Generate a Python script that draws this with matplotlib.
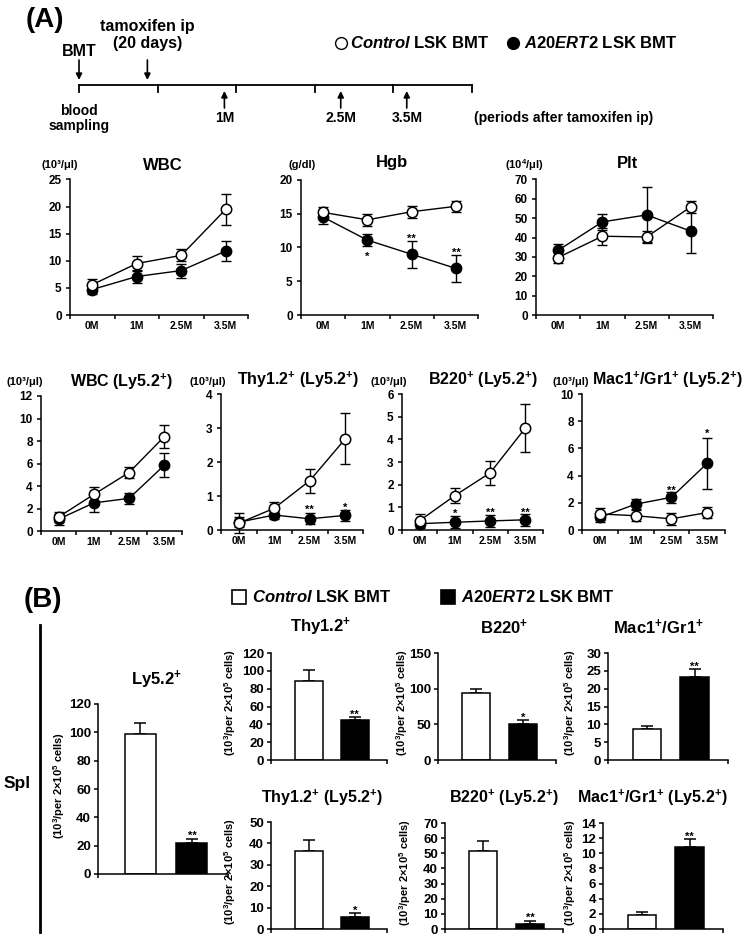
import matplotlib
matplotlib.use('Agg')
import matplotlib.pyplot as plt
from matplotlib.ticker import MultipleLocator

plt.rcParams['font.family'] = ['Liberation Sans', 'DejaVu Sans']
plt.rcParams['font.weight'] = 'bold'
plt.rcParams['mathtext.fontset'] = 'custom'
plt.rcParams['mathtext.rm'] = 'Liberation Sans:bold'
plt.rcParams['mathtext.it'] = 'Liberation Sans:italic:bold'
plt.rcParams['mathtext.bf'] = 'Liberation Sans:bold'
plt.rcParams['axes.linewidth'] = 1.1

# ---- data (A) : peripheral blood, mean +/- err ----
months = ['0M', '1M', '2.5M', '3.5M']

wbc_ctrl = [5.6, 9.5, 11.0, 19.5]
wbc_ctrl_err = [1.1, 1.4, 1.1, 2.9]
wbc_a20 = [4.7, 7.1, 8.2, 11.8]
wbc_a20_err = [0.9, 1.2, 1.3, 1.8]

hgb_ctrl = [15.2, 14.1, 15.3, 16.1]
hgb_ctrl_err = [0.85, 0.9, 0.9, 0.85]
hgb_a20 = [14.5, 11.1, 9.0, 6.9]
hgb_a20_err = [1.0, 0.9, 2.0, 2.0]

plt_ctrl = [29.7, 40.7, 40.3, 55.9]
plt_ctrl_err = [3.0, 4.5, 3.0, 3.0]
plt_a20 = [33.4, 48.1, 51.7, 43.3]
plt_a20_err = [3.1, 4.0, 14.2, 11.2]

wly_ctrl = [1.25, 3.25, 5.2, 8.4]
wly_ctrl_err = [0.45, 0.7, 0.5, 1.05]
wly_a20 = [1.05, 2.5, 2.9, 5.85]
wly_a20_err = [0.5, 0.85, 0.5, 1.05]

thy_ctrl = [0.2, 0.64, 1.45, 2.68]
thy_ctrl_err = [0.3, 0.18, 0.35, 0.75]
thy_a20 = [0.23, 0.44, 0.33, 0.43]
thy_a20_err = [0.15, 0.13, 0.16, 0.16]

b220_ctrl = [0.41, 1.52, 2.52, 4.5]
b220_ctrl_err = [0.3, 0.35, 0.52, 1.05]
b220_a20 = [0.28, 0.34, 0.4, 0.45]
b220_a20_err = [0.1, 0.27, 0.26, 0.27]

mac_ctrl = [1.18, 1.05, 0.82, 1.28]
mac_ctrl_err = [0.45, 0.4, 0.43, 0.42]
mac_a20 = [0.93, 1.9, 2.4, 4.9]
mac_a20_err = [0.35, 0.38, 0.38, 1.85]

# significance marks: (time index, mark, y value)
hgb_stars = [(1, '*', 9.2), (2, '**', 11.8), (3, '**', 9.7)]
thy_stars = [(2, '**', 0.68), (3, '*', 0.74)]
b220_stars = [(1, '*', 0.86), (2, '**', 0.93), (3, '**', 0.93)]
mac_stars = [(2, '**', 3.1), (3, '*', 7.3)]

# ---- data (B) : spleen, [control, A20ERT2] ----
spl_ly52 = [98.5, 22.0]
spl_ly52_err = [8.0, 3.0]
spl_thy = [88.8, 45.0]
spl_thy_err = [12.0, 3.0]
spl_b220 = [94.0, 50.5]
spl_b220_err = [5.5, 5.0]
spl_mac = [8.8, 23.2]
spl_mac_err = [0.8, 2.3]
spl_thy_ly = [36.5, 5.7]
spl_thy_ly_err = [5.0, 1.6]
spl_b220_ly = [51.5, 3.0]
spl_b220_ly_err = [6.3, 2.5]
spl_mac_ly = [1.8, 10.8]
spl_mac_ly_err = [0.45, 1.1]

# timeline events in months from BMT
down_events = [(0.0, 'BMT'), (0.87, 'tamoxifen ip\n(20 days)')]
up_events = [(1.85, '1M'), (3.33, '2.5M'), (4.17, '3.5M')]
timeline_ticks = [0, 1, 2, 3, 4, 5]

W, H = 747, 938
fig = plt.figure(figsize=(W / 100, H / 100), dpi=100)


def px_axes(x0, y0, x1, y1):
    return fig.add_axes([x0 / W, 1 - y1 / H, (x1 - x0) / W, (y1 - y0) / H])


def px_text(x, y, s, size, ha='center', **kw):
    fig.text(x / W, 1 - y / H, s, fontsize=size, ha=ha, va='center',
             fontweight='bold', **kw)


def clean(ax, labelsize):
    ax.spines['top'].set_visible(False)
    ax.spines['right'].set_visible(False)
    ax.tick_params(direction='out', length=3, width=1.1, labelsize=labelsize,
                   pad=3)


def star(ax, x, y, s, dy):
    ax.annotate(s, (x, y), xytext=(0, dy), textcoords='offset points',
                ha='center', va='baseline', fontsize=8, annotation_clip=False)


def line_panel(box, ctrl, ctrl_err, a20, a20_err, ymax, ystep, stars=()):
    ax = px_axes(*box)
    x = [0.5, 1.5, 2.5, 3.5]
    ax.errorbar(x, a20, yerr=a20_err, fmt='none', ecolor='black',
                elinewidth=1, capsize=3.8, capthick=1, zorder=2, clip_on=False)
    ax.plot(x, a20, '-o', color='black', mfc='black', mec='black', ms=7.5,
            lw=1, zorder=3, clip_on=False)
    ax.errorbar(x, ctrl, yerr=ctrl_err, fmt='none', ecolor='black',
                elinewidth=1, capsize=3.8, capthick=1, zorder=4, clip_on=False)
    ax.plot(x, ctrl, '-o', color='black', mfc='white', mec='black', mew=1.1,
            ms=7.5, lw=1, zorder=5, clip_on=False)
    for i, s, y in stars:
        star(ax, x[i], y, s, -0.58 * 8)
    ax.set_xlim(0, 4)
    ax.set_ylim(0, ymax)
    ax.yaxis.set_major_locator(MultipleLocator(ystep))
    ax.set_xticks(range(5))
    ax.set_xticklabels([])
    ax.set_xticks(x, minor=True)
    ax.set_xticklabels(months, minor=True)
    clean(ax, 8.5)
    ax.tick_params(axis='x', which='minor', length=0, pad=4, labelsize=7.5)
    return ax


def bar_panel(box, vals, errs, mark, ymax, ystep, ylabel_x):
    ax = px_axes(*box)
    ax.bar([0, 1], vals, width=0.6, color=['white', 'black'],
           edgecolor='black', linewidth=1.1, zorder=2)
    ax.errorbar([0, 1], vals, yerr=[[0, 0], errs], fmt='none', ecolor='black',
                elinewidth=1.1, capsize=4.2, capthick=1.1, zorder=1)
    star(ax, 1, vals[1] + errs[1], mark, 4.3 - 0.58 * 8)
    ax.set_xlim(-0.82, 1.7)
    ax.set_ylim(0, ymax)
    ax.yaxis.set_major_locator(MultipleLocator(ystep))
    ax.set_xticks([-0.82, 1.7])
    ax.set_xticklabels([])
    clean(ax, 9.5)
    ax.tick_params(axis='y', pad=2)
    px_text(ylabel_x, (box[1] + box[3]) / 2 - 4,
            '(10$^3$/per 2×10$^5$ cells)', 8, rotation=90)
    return ax


# ---- overlay for schematic, panel letters and separators ----
ov = fig.add_axes([0, 0, 1, 1])
ov.set_xlim(0, W)
ov.set_ylim(H, 0)
ov.axis('off')

px_text(45, 20, '(A)', 20)
px_text(43, 600, '(B)', 20)

# timeline
t0, step, ty = 79, 78.6, 85
ov.plot([t0, t0 + step * timeline_ticks[-1]], [ty, ty], color='black', lw=1.3)
for t in timeline_ticks:
    ov.plot([t0 + step * t] * 2, [ty, ty + 7], color='black', lw=1.3)
for m, lab in down_events:
    xx = t0 + step * m
    ov.annotate('', xy=(xx, 80), xytext=(xx, 60),
                arrowprops=dict(arrowstyle='-|>', color='black', lw=1.2,
                                mutation_scale=9, shrinkA=0, shrinkB=0))
px_text(t0 + step * down_events[0][0], 52, down_events[0][1], 11.5)
px_text(t0 + step * down_events[1][0], 35, down_events[1][1], 11.5,
        linespacing=1.2)
for m, lab in up_events:
    xx = t0 + step * m
    ov.annotate('', xy=(xx, 91), xytext=(xx, 108),
                arrowprops=dict(arrowstyle='-|>', color='black', lw=1.2,
                                mutation_scale=9, shrinkA=0, shrinkB=0))
    px_text(xx, 118, lab, 10)
px_text(t0, 118.5, 'blood\nsampling', 10, linespacing=1.15)
px_text(474, 118, '(periods after tamoxifen ip)', 10, ha='left')

# legend (A)
ov.plot([340.6], [43], 'o', ms=8.5, mfc='white', mec='black', mew=1)
px_text(350, 43, r'$\mathit{Control}$ LSK BMT', 12, ha='left')
ov.plot([513], [43], 'o', ms=8.5, mfc='black', mec='black')
px_text(524, 43, r'$\mathit{A20ERT2}$ LSK BMT', 12, ha='left')

# legend (B)
ov.add_patch(plt.Rectangle((232, 590), 14, 14, fc='white', ec='black', lw=1.2))
px_text(252, 597, r'$\mathit{Control}$ LSK BMT', 12, ha='left')
ov.add_patch(plt.Rectangle((441, 590), 14, 14, fc='black', ec='black', lw=1.2))
px_text(461, 597, r'$\mathit{A20ERT2}$ LSK BMT', 12, ha='left')

# spleen bracket
ov.plot([40, 40], [625, 932], color='black', lw=2)
px_text(17, 783, 'Spl', 12.5)

# ---- (A) row 1 ----
line_panel((70, 179.5, 248, 315), wbc_ctrl, wbc_ctrl_err, wbc_a20, wbc_a20_err, 25, 5)
px_text(163, 165, 'WBC', 12)
px_text(59.5, 165, '(10³/μl)', 8)

line_panel((301, 180, 478, 315), hgb_ctrl, hgb_ctrl_err, hgb_a20, hgb_a20_err, 20, 5,
           hgb_stars)
px_text(392, 163, 'Hgb', 12)
px_text(302.5, 165, '(g/dl)', 8)

line_panel((536, 179.5, 713, 315), plt_ctrl, plt_ctrl_err, plt_a20, plt_a20_err, 70, 10)
px_text(628, 163, 'Plt', 12)
px_text(524.5, 165, '(10$^4$/μl)', 8)

# ---- (A) row 2 : Ly5.2+ donor cells ----
line_panel((41, 396, 182, 531), wly_ctrl, wly_ctrl_err, wly_a20, wly_a20_err, 12, 2)
px_text(121, 382, 'WBC (Ly5.2$^{+}$)', 11.5)
px_text(25, 382, '(10³/μl)', 8)

line_panel((221, 394, 363, 530), thy_ctrl, thy_ctrl_err, thy_a20, thy_a20_err, 4, 1,
           thy_stars)
px_text(298, 380, 'Thy1.2$^{+}$ (Ly5.2$^{+}$)', 11.5)
px_text(208, 382, '(10³/μl)', 8)

line_panel((402, 394, 543, 530), b220_ctrl, b220_ctrl_err, b220_a20, b220_a20_err, 6, 1,
           b220_stars)
px_text(483, 380, 'B220$^{+}$ (Ly5.2$^{+}$)', 11.5)
px_text(389, 382, '(10³/μl)', 8)

line_panel((582, 394, 725, 530), mac_ctrl, mac_ctrl_err, mac_a20, mac_a20_err, 10, 2,
           mac_stars)
px_text(667, 380, 'Mac1$^{+}$/Gr1$^{+}$ (Ly5.2$^{+}$)', 11.5)
px_text(571, 382, '(10³/μl)', 8)

# ---- (B) spleen bars ----
bar_panel((98, 704, 228, 874), spl_ly52, spl_ly52_err, '**', 120, 20, 59)
px_text(157, 680, 'Ly5.2$^{+}$', 12)

bar_panel((271, 653, 387, 760), spl_thy, spl_thy_err, '**', 120, 20, 230)
px_text(321, 627, 'Thy1.2$^{+}$', 12)
bar_panel((438, 653, 556, 760), spl_b220, spl_b220_err, '*', 150, 50, 402)
px_text(504, 627, 'B220$^{+}$', 12)
bar_panel((608, 653, 728, 760), spl_mac, spl_mac_err, '**', 30, 5, 570)
px_text(658, 627, 'Mac1$^{+}$/Gr1$^{+}$', 12)

bar_panel((271, 822, 387, 929), spl_thy_ly, spl_thy_ly_err, '*', 50, 10, 230)
px_text(322.5, 798, 'Thy1.2$^{+}$ (Ly5.2$^{+}$)', 11.5)
bar_panel((445, 823, 563, 929), spl_b220_ly, spl_b220_ly_err, '**', 70, 10, 405)
px_text(504, 798, 'B220$^{+}$ (Ly5.2$^{+}$)', 11.5)
bar_panel((603, 823, 723, 929), spl_mac_ly, spl_mac_ly_err, '**', 14, 2, 570)
px_text(652, 798, 'Mac1$^{+}$/Gr1$^{+}$ (Ly5.2$^{+}$)', 11.5)

fig.savefig('out.png', dpi=100)
